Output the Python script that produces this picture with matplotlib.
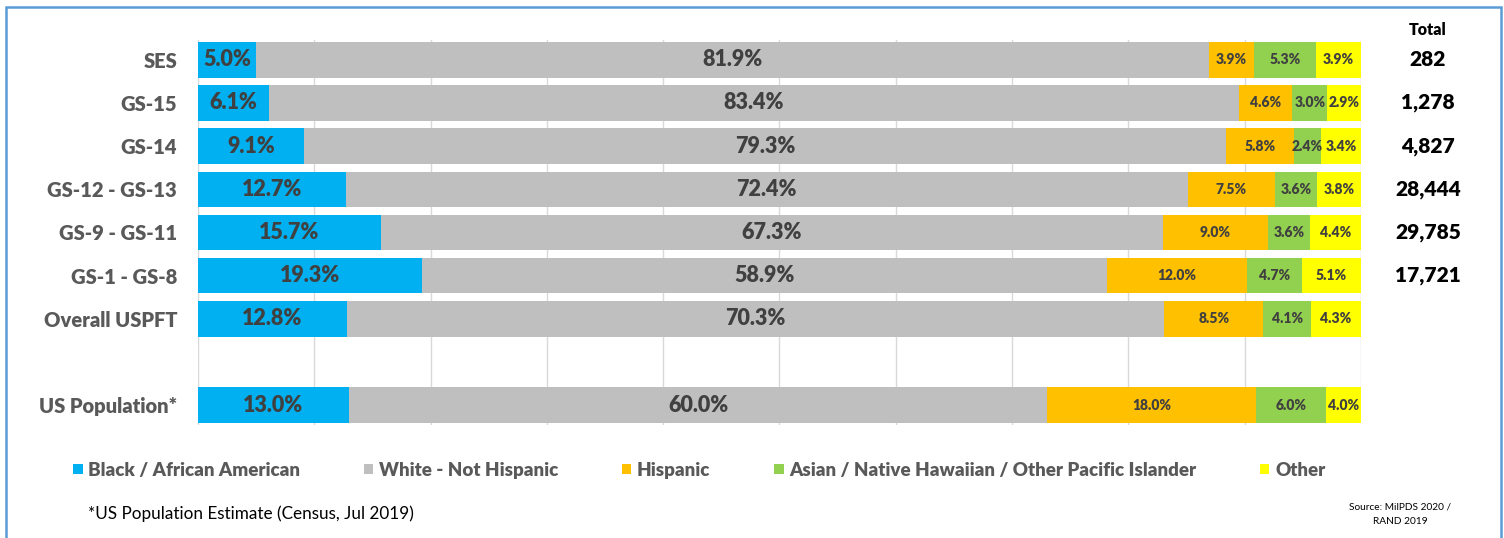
import numpy as np
import matplotlib.pyplot as plt
from matplotlib.patches import Rectangle

plt.rcParams['font.family'] = ['Lato', 'DejaVu Sans']

# Workforce composition by grade group (percent of each group)
groups = ['SES', 'GS-15', 'GS-14', 'GS-12 - GS-13', 'GS-9 - GS-11',
          'GS-1 - GS-8', 'Overall USPFT', 'US Population*']
black = [5.0, 6.1, 9.1, 12.7, 15.7, 19.3, 12.8, 13.0]
white = [81.9, 83.4, 79.3, 72.4, 67.3, 58.9, 70.3, 60.0]
hispanic = [3.9, 4.6, 5.8, 7.5, 9.0, 12.0, 8.5, 18.0]
asian = [5.3, 3.0, 2.4, 3.6, 3.6, 4.7, 4.1, 6.0]
other = [3.9, 2.9, 3.4, 3.8, 4.4, 5.1, 4.3, 4.0]
totals = [282, 1278, 4827, 28444, 29785, 17721]

series_names = ['Black / African American', 'White - Not Hispanic', 'Hispanic',
                'Asian / Native Hawaiian / Other Pacific Islander', 'Other']
series = [black, white, hispanic, asian, other]
colors = ['#00B0F0', '#BFBFBF', '#FFC000', '#92D050', '#FFFF00']
label_sizes = [15.5, 15.5, 10, 10, 10]

fig = plt.figure(figsize=(15.04, 5.38), dpi=100)
ax = fig.add_axes([0.1316, 0.21, 0.7733, 0.7157])

# leave an empty row before the US population bar
y = np.arange(len(groups), dtype=float)
y[-1] += 1

left = np.zeros(len(groups))
handles = []
for vals, name, col, fs in zip(series, series_names, colors, label_sizes):
    vals = np.array(vals)
    bars = ax.barh(y, vals, left=left, height=0.82, color=col, label=name)
    ax.bar_label(bars, labels=[f'{v:.1f}%' for v in vals], label_type='center',
                 fontsize=fs, fontweight='heavy', color='#404040')
    handles.append(bars)
    left += vals

ax.set_xlim(0, 100)
ax.set_ylim(y[-1] + 0.46, -0.46)
ax.set_xticks(np.arange(0, 101, 10))
ax.xaxis.grid(True, color='#D9D9D9', lw=1)
ax.set_axisbelow(True)
ax.tick_params(axis='x', length=0, labelbottom=False)
ax.tick_params(axis='y', length=0, pad=15)
ax.set_yticks(y)
ax.set_yticklabels(groups, fontsize=14.5, fontweight='heavy', color='#595959')
for s in ax.spines.values():
    s.set_visible(False)

# totals column to the right of the bars
tr = ax.get_yaxis_transform()
ax.text(1.0576, -0.70, 'Total', transform=tr, ha='center', va='center',
        fontsize=11.5, fontweight='heavy', color='black', clip_on=False)
for yy, t in zip(y, totals):
    ax.text(1.0576, yy, f'{t:,}', transform=tr, ha='center', va='center',
            fontsize=15, fontweight='heavy', color='black', clip_on=False)

fig.legend(handles=handles, loc='center', bbox_to_anchor=(0.465, 0.126), ncol=5,
           frameon=False, handlelength=0.5, handleheight=0.5, handletextpad=0.3,
           columnspacing=3.4, prop={'size': 13.5, 'weight': 'heavy'},
           labelcolor='#595959')

fig.text(88 / 1504, 1 - 514 / 538, '*US Population Estimate (Census, Jul 2019)',
         fontsize=12.3, color='black', va='center')
fig.text(1400 / 1504, 1 - 514 / 538, 'Source: MilPDS 2020 /\nRAND 2019',
         fontsize=7.3, color='black', ha='center', va='center', linespacing=1.8)

fig.patches.append(Rectangle((6 / 1504, -0.05), 1495 / 1504, 1.05 - 7 / 538,
                             transform=fig.transFigure, fill=False,
                             edgecolor='#5B9BD5', lw=1.8))

fig.savefig('out.png', dpi=100)
